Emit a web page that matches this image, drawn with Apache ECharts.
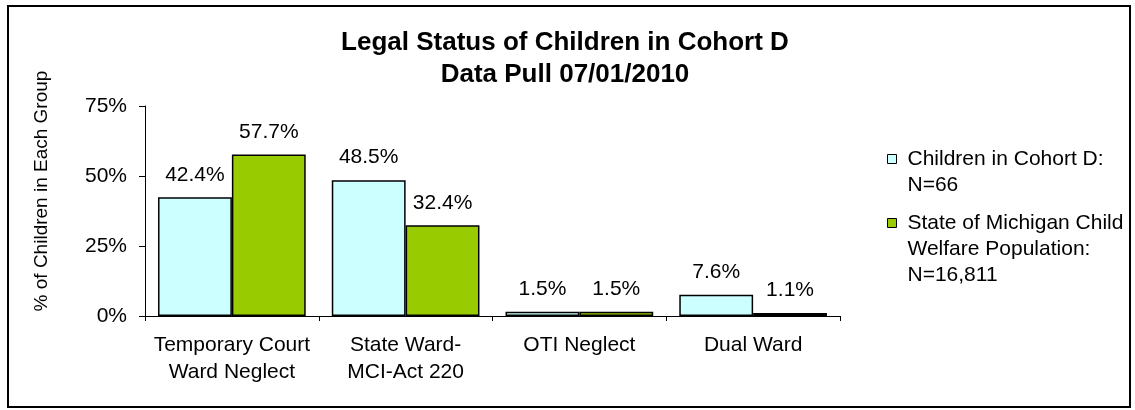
<!DOCTYPE html>
<html>
<head>
<meta charset="utf-8">
<script src="https://cdn.jsdelivr.net/npm/echarts@6/dist/echarts.min.js"></script>
<style>
  html, body { margin: 0; padding: 0; background: #fff; }
  #chart { width: 1135px; height: 410px; }
</style>
</head>
<body>
<div id="chart"></div>
<script>
const categories = [
  'Temporary Court\nWard Neglect',
  'State Ward-\nMCI-Act 220',
  'OTI Neglect',
  'Dual Ward'
];
const cohortValues = [42.4, 48.5, 1.5, 7.6];
const stateValues = [57.7, 32.4, 1.5, 1.1];
const seriesNames = [
  'Children in Cohort D:\nN=66',
  'State of Michigan Child\nWelfare Population:\nN=16,811'
];
const yTicks = [0, 25, 50, 75];

const font = 'Arial, "Liberation Sans", sans-serif';
const lineH = 26;

const chart = echarts.init(document.getElementById('chart'));

// legend text is centred on the icon; stretch the icon box with an invisible point
// so the little square sits on the first line of the name
const legendItem = (name, lines, top) => {
  const boxH = Math.round(2 * (lines * lineH / 2 - lineH / 2 + 4.5));
  return {
    data: [name],
    left: 887,
    top: top,
    padding: 0,
    itemWidth: 15,
    itemHeight: boxH,
    icon: 'path://M0,0L9,0L9,9L0,9Z M15,' + boxH + 'L15,' + boxH,
    itemStyle: { borderWidth: 1, borderColor: '#000' },
    selectedMode: false,
    textStyle: {
      fontFamily: font,
      fontSize: 21,
      color: '#000',
      lineHeight: lineH
    }
  };
};

const barLabel = {
  show: true,
  position: 'top',
  distance: 12,
  fontFamily: font,
  fontSize: 21,
  color: '#000',
  formatter: (p) => p.value.toFixed(1) + '%'
};

chart.setOption({
  animation: false,
  title: {
    text: 'Legal Status of Children in Cohort D\nData Pull 07/01/2010',
    left: 560,
    textAlign: 'center',
    top: 22,
    textStyle: {
      fontFamily: font,
      fontSize: 26,
      fontWeight: 'bold',
      color: '#000',
      lineHeight: 32
    }
  },
  legend: [
    legendItem(seriesNames[0], 2, 146),
    legendItem(seriesNames[1], 3, 210)
  ],
  graphic: [{
    type: 'rect',
    shape: { x: 8, y: 6, width: 1122, height: 401 },
    style: { fill: 'none', stroke: '#000', lineWidth: 2 },
    silent: true,
    z: -1
  }],
  grid: { left: 145, right: 295, top: 106, bottom: 94 },
  xAxis: {
    type: 'category',
    data: categories,
    axisLine: { lineStyle: { color: '#000', width: 1 } },
    axisTick: { show: true, length: 5, alignWithLabel: false, lineStyle: { color: '#000' } },
    axisLabel: {
      color: '#000',
      fontFamily: font,
      fontSize: 21,
      lineHeight: 27,
      margin: 16,
      interval: 0
    }
  },
  yAxis: {
    type: 'value',
    min: 0,
    max: 75,
    interval: 25,
    name: '% of Children in Each Group',
    nameLocation: 'middle',
    nameGap: 94,
    nameTextStyle: {
      fontFamily: font,
      fontSize: 19,
      color: '#000',
      padding: [0, 0, 0, 40]
    },
    axisLine: { show: true, lineStyle: { color: '#000', width: 1 } },
    axisTick: { show: true, length: 6, lineStyle: { color: '#000' } },
    splitLine: { show: false },
    axisLabel: {
      color: '#000',
      fontFamily: font,
      fontSize: 21,
      margin: 18,
      formatter: (v) => (yTicks.includes(v) ? v + '%' : '')
    }
  },
  series: [
    {
      name: seriesNames[0],
      type: 'bar',
      data: cohortValues,
      barGap: '0%',
      barCategoryGap: '15%',
      itemStyle: { color: '#CCFFFF', borderColor: '#000', borderWidth: 1.5 },
      label: barLabel
    },
    {
      name: seriesNames[1],
      type: 'bar',
      data: stateValues,
      itemStyle: { color: '#99CC00', borderColor: '#000', borderWidth: 1.5 },
      label: barLabel
    }
  ]
});
</script>
</body>
</html>
